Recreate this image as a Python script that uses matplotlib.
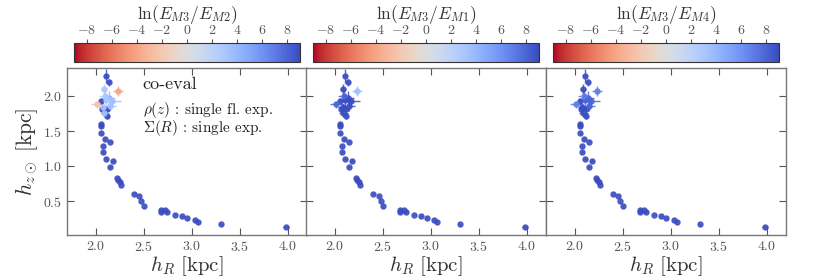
import numpy as np
import matplotlib
matplotlib.use("Agg")
import matplotlib.pyplot as plt
from matplotlib.ticker import FuncFormatter, MultipleLocator
from matplotlib.colors import Normalize
from matplotlib.cm import ScalarMappable

plt.rcParams['font.family'] = 'serif'
plt.rcParams['font.serif'] = ['cmr10', 'DejaVu Serif']
plt.rcParams['mathtext.fontset'] = 'cm'
plt.rcParams['axes.unicode_minus'] = False

# --- scale lengths (h_R, h_z) with errors ---
h_R = [2.103, 2.138, 2.231, 2.086, 2.059, 2.138, 2.172, 2.017, 2.069, 2.121,
       2.090, 2.121, 2.095, 2.110, 2.150, 2.080,
       2.052, 2.052, 2.059, 2.093, 2.145, 2.079, 2.079, 2.103, 2.183, 2.145,
       2.217, 2.234, 2.252, 2.259, 2.400, 2.455, 2.476, 2.500, 2.683, 2.683,
       2.717, 2.741, 2.828, 2.897, 2.955, 3.034, 3.062, 3.303, 3.983]
h_z = [2.290, 2.200, 2.075, 2.095, 1.930, 1.975, 1.930, 1.880, 1.810, 1.810,
       1.760, 1.710, 2.000, 1.950, 1.860, 1.840,
       1.595, 1.570, 1.476, 1.390, 1.350, 1.286, 1.200, 1.105, 1.080, 0.990,
       0.838, 0.810, 0.776, 0.738, 0.610, 0.580, 0.500, 0.430, 0.380, 0.348,
       0.371, 0.343, 0.310, 0.290, 0.262, 0.233, 0.205, 0.171, 0.138]
h_R_err = [0.020, 0.025, 0.050, 0.030, 0.020, 0.060, 0.090, 0.070, 0.030, 0.025,
           0.050, 0.020, 0.060, 0.070, 0.060, 0.050,
           0.012, 0.010, 0.008, 0.008, 0.010, 0.008, 0.008, 0.010, 0.020, 0.010,
           0.008, 0.008, 0.008, 0.008, 0.008, 0.008, 0.008, 0.008, 0.010, 0.008,
           0.010, 0.010, 0.008, 0.008, 0.008, 0.010, 0.010, 0.010, 0.030]
h_z_err = [0.100, 0.050, 0.070, 0.070, 0.040, 0.090, 0.060, 0.050, 0.040, 0.040,
           0.060, 0.030, 0.090, 0.080, 0.080, 0.050,
           0.020, 0.015, 0.010, 0.010, 0.010, 0.010, 0.010, 0.010, 0.010, 0.010,
           0.008, 0.008, 0.008, 0.008, 0.008, 0.008, 0.008, 0.008, 0.008, 0.008,
           0.008, 0.008, 0.008, 0.008, 0.008, 0.008, 0.008, 0.008, 0.008]

# --- log evidence ratios per panel ---
n_low = 29
lnE_32 = [9, 9, -4, 3, 9, 4, 3.5, -2.5, 9, 9, 3.5, 9, 3, 3, 3.5, 3] + [9] * n_low
lnE_31 = [9, 9, 3.5, 9, 9, 9, 9, 8, 9, 9, 9, 9, 8, 9, 9, 9] + [9] * n_low
lnE_34 = [9, 9, 7, 9, 9, 8, 8, 7, 9, 9, 9, 9, 7, 8, 8, 9] + [9] * n_low

ratios = [lnE_32, lnE_31, lnE_34]
cbar_labels = [r'$\ln(E_{M3}/E_{M2})$', r'$\ln(E_{M3}/E_{M1})$', r'$\ln(E_{M3}/E_{M4})$']

cmap = plt.get_cmap('coolwarm_r')
norm = Normalize(vmin=-9, vmax=9)
math_fmt = FuncFormatter(lambda v, p: r'$%g$' % v)

fig = plt.figure(figsize=(8.3, 2.77), dpi=100)
lefts = [0.0807, 0.3687, 0.6578]
w, bottom, h = 0.2892, 0.1516, 0.6030

for i in range(3):
    ax = fig.add_axes([lefts[i], bottom, w, h])
    vals = ratios[i]
    # draw weaker-evidence points last so they sit on top
    order = np.argsort(-np.abs(np.array(vals)), kind='stable')
    for j in order:
        c = cmap(norm(vals[j]))
        ax.errorbar(h_R[j], h_z[j], xerr=h_R_err[j], yerr=h_z_err[j], fmt='o',
                    ms=3.6, color=c, mec=c, ecolor=c, elinewidth=1.0,
                    alpha=0.85, capsize=0, zorder=3)
    ax.set_xlim(1.7, 4.2)
    ax.set_ylim(0.02, 2.4)
    ax.xaxis.set_major_locator(MultipleLocator(0.5))
    ax.yaxis.set_major_locator(MultipleLocator(0.5))
    ax.xaxis.set_major_formatter(FuncFormatter(lambda v, p: r'$%.1f$' % v))
    ax.yaxis.set_major_formatter(FuncFormatter(lambda v, p: r'$%.1f$' % v))
    ax.tick_params(direction='in', top=True, right=True, length=5, width=0.8,
                   color='#555555', labelcolor='#555555', labelsize=10)
    for s in ax.spines.values():
        s.set_color('#777777')
        s.set_linewidth(1.0)
    ax.set_xlabel(r'$h_R\ [\mathrm{kpc}]$', fontsize=15, color='#333333', labelpad=0)
    if i == 0:
        ax.set_ylabel(r'$h_{z\odot}\ [\mathrm{kpc}]$', fontsize=15.5, color='#333333', labelpad=2)
        ax.text(0.315, 0.90, 'co-eval', transform=ax.transAxes, fontsize=13,
                va='center', color='#222222')
        ax.text(0.315, 0.75, r'$\rho(z)$ : single fl. exp.', transform=ax.transAxes,
                fontsize=11, va='center', color='#222222')
        ax.text(0.315, 0.64, r'$\Sigma(R)$ : single exp.', transform=ax.transAxes,
                fontsize=11, va='center', color='#222222')
    else:
        ax.set_yticklabels([])

    cax = fig.add_axes([lefts[i] + 0.0085, 0.777, w - 0.017, 0.0686])
    sm = ScalarMappable(norm=norm, cmap=cmap)
    cb = fig.colorbar(sm, cax=cax, orientation='horizontal')
    cb.set_ticks(np.arange(-8, 9, 2))
    cb.ax.xaxis.set_major_formatter(math_fmt)
    cax.xaxis.set_ticks_position('top')
    cax.xaxis.set_label_position('top')
    cax.tick_params(labelsize=10, length=3, color='#555555', labelcolor='#555555', pad=1)
    cb.set_label(cbar_labels[i], fontsize=12.5, color='#333333', labelpad=4)
    cb.outline.set_edgecolor('#333333')

fig.savefig('out.png', dpi=100)
